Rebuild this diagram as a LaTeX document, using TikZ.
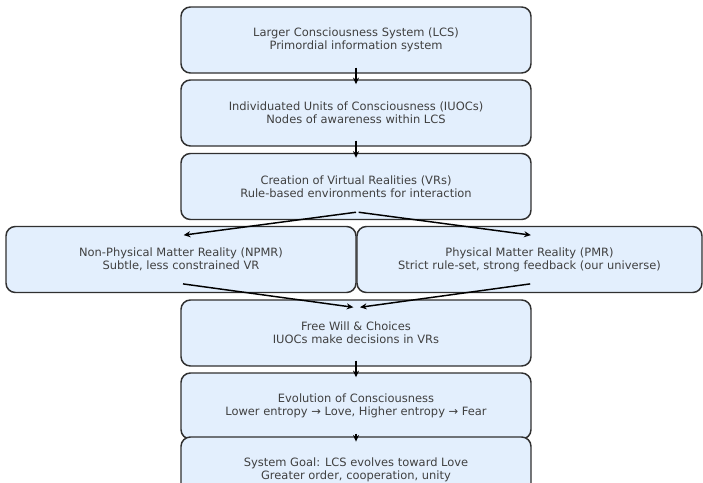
\documentclass[tikz,border=0pt]{standalone}
\usepackage{fontspec}
\setmainfont{DejaVu Sans}
\usetikzlibrary{arrows.meta,calc}
\definecolor{boxfill}{HTML}{E3EFFD}
\definecolor{boxline}{HTML}{303030}
\definecolor{txt}{HTML}{404040}
\begin{document}
\begin{tikzpicture}[x=0.75pt,y=-0.75pt,
  box/.style={draw=boxline, fill=boxfill, line width=1.1pt, rounded corners=7pt,
    minimum width=262.5pt, minimum height=49.5pt, inner sep=0pt, align=center,
    text=txt, font=\fontsize{8.6}{10}\selectfont},
  arr/.style={-{Stealth[length=5pt,width=4.5pt]}, line width=1.1pt, black}]
\useasboundingbox (0,0) rectangle (703,482);
\clip (0,0) rectangle (703,482);
\node[box] (lcs) at (356,40) {Larger Consciousness System (LCS)\\Primordial information system};
\node[box] (iuoc) at (356,113) {Individuated Units of Consciousness (IUOCs)\\Nodes of awareness within LCS};
\node[box] (vr) at (356,186.5) {Creation of Virtual Realities (VRs)\\Rule-based environments for interaction};
\node[box] (npmr) at (181,259.5) {Non-Physical Matter Reality (NPMR)\\Subtle, less constrained VR};
\node[box, minimum width=258.75pt] (pmr) at (529.5,259.5) {Physical Matter Reality (PMR)\\Strict rule-set, strong feedback (our universe)};
\node[box] (fw) at (356,333) {Free Will \& Choices\\IUOCs make decisions in VRs};
\node[box] (evo) at (356,406) {Evolution of Consciousness\\Lower entropy → Love, Higher entropy → Fear};
\node[box] (goal) at (356,470) {System Goal: LCS evolves toward Love\\Greater order, cooperation, unity};
\draw[arr] ([yshift=4.5pt]lcs.south) -- ([yshift=-3.75pt]iuoc.north);
\draw[arr] ([yshift=4.5pt]iuoc.south) -- ([yshift=-3.75pt]vr.north);
\draw[arr] ([yshift=6pt]vr.south) -- ([xshift=2pt,yshift=-7pt]npmr.north);
\draw[arr] ([xshift=2pt,yshift=6pt]vr.south) -- ([xshift=1pt,yshift=-7pt]pmr.north);
\draw[arr] ([xshift=1.5pt,yshift=7pt]npmr.south) -- ([xshift=-2pt,yshift=-6pt]fw.north);
\draw[arr] ([xshift=0.5pt,yshift=7pt]pmr.south) -- ([xshift=3pt,yshift=-6pt]fw.north);
\draw[arr] ([yshift=4.5pt]fw.south) -- ([yshift=-3.75pt]evo.north);
\draw[arr] ([yshift=4.5pt]evo.south) -- ([yshift=-4pt]goal.north);
\end{tikzpicture}
\end{document}
